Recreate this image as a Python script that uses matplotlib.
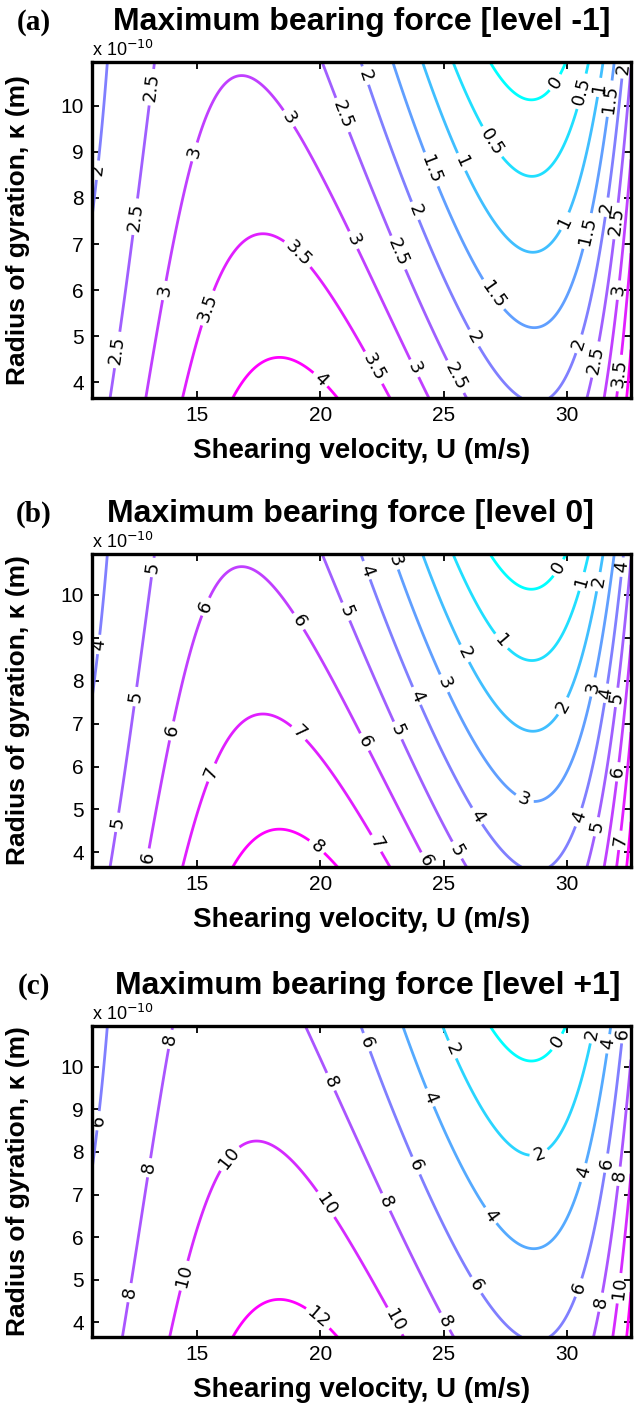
import numpy as np
import matplotlib.pyplot as plt
from matplotlib.colors import Normalize

# axis ranges: shearing velocity U (m/s), radius of gyration (x 1e-10 m)
u_range = [10.75, 32.6]
k_range = [3.66, 10.95]

pts_u = [27.0, 28.55, 29.66, 29.93,                                   # 0
         25.4, 26.9, 28.6, 30.67, 30.87,                              # 0.5
         24.2, 25.63, 28.6, 29.93, 31.28, 31.4,                       # 1
         23.0, 24.42, 27.04, 28.6, 30.74, 31.8, 31.9,                 # 1.5
         11.33, 11.04, 10.82, 21.5, 21.87, 23.75, 26.17, 28.6, 30.4,
         31.68, 32.35,                                                # 2
         13.23, 13.15, 12.42, 11.8, 11.46, 20.2, 20.93, 23.15, 25.36,
         25.9, 30.95, 31.14, 32.0, 32.55,                             # 2.5
         12.9, 13.64, 14.93, 15.95, 16.9, 17.9, 18.8, 21.33, 23.82,
         24.4, 31.65, 32.05,                                          # 3
         14.46, 15.54, 16.6, 17.72, 19.2, 22.14, 22.9, 32.0, 32.15,   # 3.5
         16.63, 18.46, 19.96, 20.84, 32.35]                           # 4
pts_k = [10.95, 10.1, 10.45, 10.95,
         10.95, 9.2, 8.53, 10.3, 10.95,
         10.95, 8.75, 6.92, 7.5, 10.37, 10.95,
         10.95, 8.6, 5.92, 5.3, 7.34, 10.15, 10.95,
         10.92, 8.4, 7.82, 10.95, 10.67, 7.72, 4.96, 3.74, 4.84,
         7.79, 10.8,
         10.92, 10.5, 7.65, 4.73, 3.66, 10.95, 9.78, 6.83, 4.13,
         3.66, 3.66, 4.54, 7.5, 10.9,
         3.66, 6.04, 8.96, 9.77, 10.53, 10.3, 9.77, 7.12, 4.27,
         3.66, 3.66, 5.95,
         3.66, 5.6, 7.05, 7.42, 6.91, 4.4, 3.66, 3.66, 4.17,
         3.66, 4.58, 4.02, 3.66, 3.66]
pts_f = [0] * 4 + [0.5] * 5 + [1] * 6 + [1.5] * 7 + [2] * 11 + [2.5] * 14 \
    + [3] * 12 + [3.5] * 9 + [4] * 5

# the three panels are the same surface scaled by these factors
scale = [1, 2, 3]
titles = ["Maximum bearing force [level -1]",
          "Maximum bearing force [level 0]",
          "Maximum bearing force [level +1]"]
tags = ["(a)", "(b)", "(c)"]
levels = [[0, 0.5, 1, 1.5, 2, 2.5, 3, 3.5, 4, 4.5],
          [0, 1, 2, 3, 4, 5, 6, 7, 8, 9],
          [0, 2, 4, 6, 8, 10, 12, 14]]
color_top = [4, 8, 12]


def basis(x, y):
    u = (np.asarray(x) - 21.7) / 10.9
    v = (np.asarray(y) - 7.3) / 3.65
    cols = [u**i for i in range(7)] + [v * u**i for i in range(6)] \
        + [v**2 * u**i for i in range(3)]
    return np.stack(cols, axis=-1)


coef, *_ = np.linalg.lstsq(basis(pts_u, pts_k), np.array(pts_f, float), rcond=None)

xs = np.linspace(u_range[0], u_range[1], 400)
ys = np.linspace(k_range[0], k_range[1], 400)
X, Y = np.meshgrid(xs, ys)
Z = basis(X, Y) @ coef

# label spots (data coords) for each panel
label_spots = [
    [(11.0, 8.6), (13.2, 10.4), (12.4, 7.6), (11.8, 4.7), (14.9, 9.0), (13.6, 6.0),
     (18.8, 9.75), (21.4, 7.1), (23.8, 4.3), (15.5, 5.6), (19.3, 6.9), (22.1, 4.3),
     (19.9, 4.0), (20.9, 9.8), (23.1, 6.8), (25.4, 4.1), (21.8, 10.65), (23.75, 7.7),
     (26.2, 4.95), (24.4, 8.6), (27.0, 5.9), (25.6, 8.75), (29.9, 7.5), (26.9, 9.2),
     (29.7, 10.45), (30.7, 10.3), (31.3, 10.4), (31.8, 10.15), (30.7, 7.3),
     (32.3, 10.8), (31.6, 7.8), (30.4, 4.85), (32.0, 7.5), (31.1, 4.5), (32.1, 6.0),
     (32.15, 4.2)],
    [(13.15, 10.64), (15.2, 9.76), (10.92, 8.85), (12.24, 7.65), (13.73, 6.86),
     (15.38, 5.91), (11.66, 4.71), (12.9, 3.88), (19.26, 6.86), (19.84, 4.12),
     (22.24, 4.2), (24.14, 3.76), (25.38, 4.0), (19.18, 9.4), (21.0, 9.6),
     (21.83, 10.56), (22.82, 10.76), (21.83, 6.58), (23.07, 6.82), (23.81, 7.62),
     (24.88, 7.9), (25.63, 8.57), (27.2, 8.85), (26.2, 4.79), (28.27, 5.23),
     (29.93, 7.38), (29.76, 10.6), (30.67, 10.3), (31.33, 10.3), (32.3, 10.64),
     (31.08, 7.85), (31.66, 7.7), (32.16, 7.6), (32.16, 5.87), (30.42, 4.83),
     (31.17, 4.6), (32.16, 4.28)],
    [(13.89, 10.64), (11.0, 8.73), (12.82, 7.65), (12.16, 4.71), (16.04, 7.97),
     (14.39, 5.11), (19.76, 4.0), (20.26, 6.78), (22.9, 4.0), (20.42, 9.64),
     (22.65, 6.82), (24.97, 4.0), (21.83, 10.56), (23.81, 7.66), (26.2, 4.83),
     (24.31, 9.24), (26.79, 6.46), (25.2, 10.36), (28.93, 7.85), (29.76, 10.52),
     (31.08, 10.76), (31.83, 10.52), (32.4, 10.76), (30.75, 7.5), (31.66, 7.73),
     (32.24, 7.42), (30.42, 4.83), (31.33, 4.48), (32.16, 4.8)],
]

W, H = 637, 1406
fig = plt.figure(figsize=(W / 100, H / 100), dpi=100)

# axes frames in pixels: left, right, top, bottom
frames = [(92, 631, 62, 398), (92, 631, 554, 867), (92, 631, 1026, 1337)]
title_x = [362, 350, 368]

for i in range(3):
    l, r, t, b = frames[i]
    ax = fig.add_axes([l / W, 1 - b / H, (r - l) / W, (b - t) / H])
    cs = ax.contour(X, Y, Z * scale[i], levels=levels[i], cmap='cool',
                    norm=Normalize(0, color_top[i]), linewidths=2.0)
    ax.clabel(cs, cs.levels, inline=True, fmt='%g', fontsize=13, colors='k',
              manual=label_spots[i], inline_spacing=4)

    ax.set_xlim(u_range)
    ax.set_ylim(k_range)
    ax.set_xticks([15, 20, 25, 30])
    ax.set_yticks([4, 5, 6, 7, 8, 9, 10])
    ax.tick_params(direction='in', top=True, right=True, length=5, width=1.3,
                   labelsize=15, pad=6)
    for lab in ax.get_xticklabels() + ax.get_yticklabels():
        lab.set_fontfamily('Liberation Sans')
    for sp in ax.spines.values():
        sp.set_linewidth(2.4)

    ax.set_xlabel("Shearing velocity, U (m/s)", fontsize=20, fontweight='bold',
                  family='Liberation Sans', labelpad=9)
    ax.set_ylabel("Radius of gyration, κ (m)", fontsize=19, fontweight='bold',
                  family='Liberation Sans')
    ax.yaxis.set_label_coords(-0.115, 0.5)
    ax.text(0.0, 1.005, "x 10$^{-10}$", transform=ax.transAxes, fontsize=13,
            family='Liberation Sans', ha='left', va='bottom')

    fig.text(title_x[i] / W, 1 - (t - 40) / H, titles[i], fontsize=23,
             fontweight='bold', family='Liberation Sans', ha='center', va='center')
    fig.text(34 / W, 1 - (t - 40) / H, tags[i], fontsize=21, fontweight='bold',
             family='Liberation Serif', ha='center', va='center')

fig.savefig("out.png", dpi=100)
